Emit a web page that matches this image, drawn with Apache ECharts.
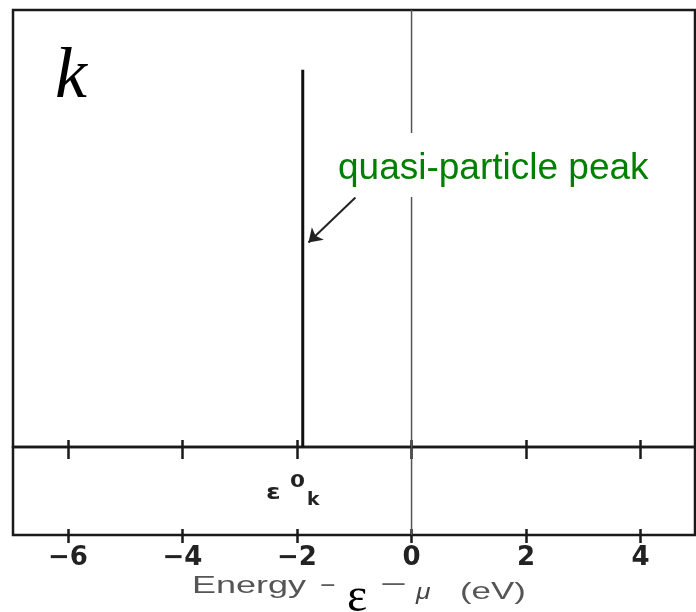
<!DOCTYPE html>
<html><head><meta charset="utf-8">
<script src="https://cdn.jsdelivr.net/npm/echarts@6/dist/echarts.min.js"></script>
<style>html,body{margin:0;padding:0;background:#fff}#c{width:696px;height:612px}</style>
</head><body><div id="c"></div>
<script>
// ---- data ----
const tickValues = [-6, -4, -2, 0, 2, 4];
const peakEnergy = -1.9;       // quasi-particle peak position (eV)
const peakHeight = 0.863;      // relative height of the peak
const fermiEnergy = 0;         // mu
const arrowFrom = [-0.98, 0.571];
const arrowTo = [-1.8, 0.468];
const xMin = -6.96, xMax = 4.95;

const chart = echarts.init(document.getElementById('c'), null, {renderer: 'canvas'});
const fmt = v => (v < 0 ? '\u2212' + Math.abs(v) : String(v));
const ink = '#1a1a1a';
const tickStyle = {color: ink, width: 2.5};
function xAx(grid, pos, len, labels) {
  return {
    type: 'value', gridIndex: grid, position: pos, min: xMin, max: xMax,
    splitLine: {show: false}, axisLine: {show: false},
    axisTick: {show: true, inside: true, length: len, customValues: tickValues, lineStyle: tickStyle},
    axisLabel: labels ? {show: true, customValues: tickValues, formatter: fmt, margin: 10,
      fontSize: 26, fontWeight: 'bold', fontFamily: 'DejaVu Sans', color: '#222'} : {show: false}
  };
}
const option = {
  animation: false,
  backgroundColor: '#fff',
  grid: [
    {left: 13, right: 1, top: 10, height: 437, show: true, borderColor: ink, borderWidth: 2.5, backgroundColor: 'transparent'},
    {left: 13, right: 1, top: 447, height: 88, show: true, borderColor: ink, borderWidth: 2.5, backgroundColor: 'transparent'}
  ],
  xAxis: [xAx(0, 'top', 12, false), xAx(0, 'bottom', 7, false), xAx(1, 'top', 8, false), xAx(1, 'bottom', 6, true)],
  yAxis: [
    {type: 'value', gridIndex: 0, min: 0, max: 1, show: false},
    {type: 'value', gridIndex: 1, min: 0, max: 1, show: false}
  ],
  series: [
    {type: 'line', xAxisIndex: 0, yAxisIndex: 0, data: [[fermiEnergy, 0], [fermiEnergy, 1]],
      showSymbol: false, silent: true, lineStyle: {color: '#555', width: 1.5}, z: 2},
    {type: 'line', xAxisIndex: 3, yAxisIndex: 1, data: [[fermiEnergy, 0], [fermiEnergy, 1]],
      showSymbol: false, silent: true, lineStyle: {color: '#555', width: 1.5}, z: 2},
    {type: 'line', xAxisIndex: 0, yAxisIndex: 0, data: [[peakEnergy, 0], [peakEnergy, peakHeight]],
      showSymbol: false, silent: true, lineStyle: {color: '#111', width: 3}, z: 3,
      markLine: {silent: true, symbol: ['none', 'arrow'], symbolSize: 13, label: {show: false},
        lineStyle: {color: '#222', width: 2, type: 'solid'},
        data: [[{coord: arrowFrom}, {coord: arrowTo}]]}}
  ],
  graphic: [
    {type: 'rect', shape: {x: 313, y: 133, width: 355, height: 64}, style: {fill: '#fff'}, z: 100},
    {type: 'text', x: 338, y: 169, z: 101, style: {text: 'quasi-particle peak', fill: '#008000',
      font: '37px "Liberation Sans", Arial, sans-serif', verticalAlign: 'middle'}},
    {type: 'text', x: 55, y: 78, z: 101, style: {text: 'k', fill: '#000',
      font: 'italic 72px "Liberation Serif", "Times New Roman", serif', verticalAlign: 'middle'}},
    // epsilon^0_k label
    {type: 'text', x: 266, y: 493, scaleX: 1.2, style: {text: '\u03b5', fill: '#222', font: 'bold 22px "DejaVu Sans"', verticalAlign: 'middle'}},
    {type: 'text', x: 290, y: 482, scaleX: 1.2, style: {text: '0', fill: '#222', font: 'bold 18px "DejaVu Sans"', verticalAlign: 'middle'}},
    {type: 'text', x: 307, y: 501, scaleX: 1.1, style: {text: 'k', fill: '#222', font: 'bold 17px "DejaVu Sans"', verticalAlign: 'middle'}},
    // axis title
    {type: 'text', x: 192, y: 586, scaleX: 1.5, style: {text: 'Energy', fill: '#555', font: '24px "Liberation Sans"', verticalAlign: 'middle'}},
    {type: 'text', x: 320, y: 586, scaleX: 1.1, style: {text: '\u2212', fill: '#555', font: '24px "Liberation Sans"', verticalAlign: 'middle'}},
    {type: 'text', x: 347, y: 598, style: {text: '\u03b5', fill: '#000', font: '48px "Liberation Serif"', verticalAlign: 'middle'}},
    {type: 'text', x: 380, y: 585, scaleX: 1.9, style: {text: '\u2212', fill: '#555', font: '24px "Liberation Sans"', verticalAlign: 'middle'}},
    {type: 'text', x: 416, y: 593, scaleX: 1.2, style: {text: '\u03bc', fill: '#444', font: 'italic 22px "Liberation Sans"', verticalAlign: 'middle'}},
    {type: 'text', x: 460, y: 592, scaleX: 1.45, style: {text: '(eV)', fill: '#555', font: '24px "Liberation Sans"', verticalAlign: 'middle'}}
  ]
};
chart.setOption(option);
</script></body></html>
